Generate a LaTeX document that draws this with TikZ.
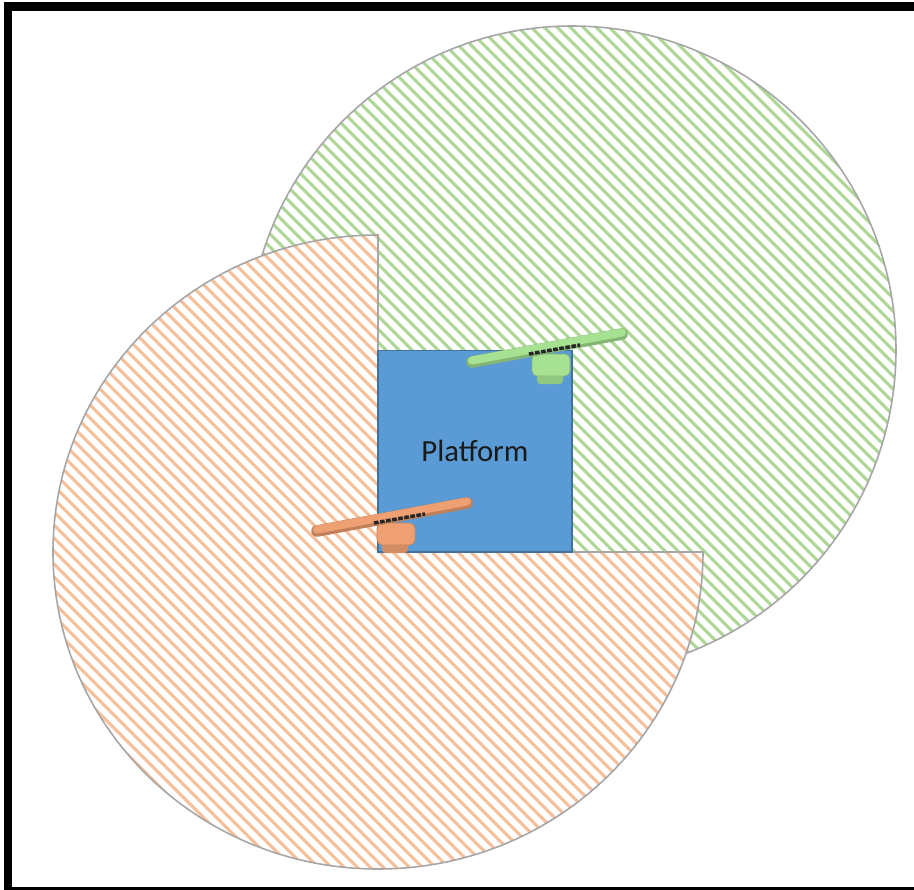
\documentclass[tikz,border=0pt]{standalone}
\usepackage{fontspec}
\setmainfont{Carlito}
\usepackage{xcolor}
\definecolor{ink}{HTML}{1A1A1A}
\definecolor{rimgray}{HTML}{A6A6A6}
\definecolor{leafline}{HTML}{AED695}
\definecolor{peachline}{HTML}{F7BF99}
\definecolor{deck}{HTML}{5B9BD5}
\definecolor{deckedge}{HTML}{41719C}
\definecolor{lidargreen}{HTML}{A6E291}
\definecolor{lidarorange}{HTML}{EFA072}
\tikzset{
  rim/.style={draw=rimgray, line width=0.9pt},
  stripe/.style={line width=1.7pt},
  platform/.style={draw=deckedge, fill=deck, line width=0.6pt,
                   minimum width=3.88cm, minimum height=4.04cm, inner sep=0pt,
                   font=\fontsize{17.5}{20}\selectfont, text=ink},
  rod/.style={line width=6.6pt, line cap=round},
  marks/.style={draw=black!85, line width=2pt, dash pattern=on 2.6pt off 0.9pt}
}

\begin{document}
\begin{tikzpicture}[x=0.02cm,y=-0.02cm]
  \useasboundingbox (0,0) rectangle (914,890);
  \clip (0,0) rectangle (914,890);
  \fill[white] (0,0) rectangle (914,890);

  \coordinate (gc) at (572,350);
  \coordinate (oc) at (378,552);

  % green coverage disc
  \begin{scope}
    \clip (gc) circle [radius=324];
    \foreach \k in {-900,-887,...,914}
      \draw[stripe,leafline] (\k,0) -- ++(1000,1000);
  \end{scope}
  \draw[rim] (gc) circle [radius=324];

  % orange coverage, three quarters
  \begin{scope}
    \clip (oc) -- ++(325,0) arc[start angle=0, end angle=270, x radius=325, y radius=317] -- cycle;
    \fill[white] (0,0) rectangle (914,890);
    \foreach \k in {-900,-887,...,914}
      \draw[stripe,peachline] (\k,0) -- ++(1000,1000);
  \end{scope}
  \draw[rim] (oc) -- ++(325,0) arc[start angle=0, end angle=270, x radius=325, y radius=317] -- cycle;

  \node[platform] (plat) at (475,451) {Platform};

  % the two scanners
  \foreach \cx/\cy/\col in {551/365/lidargreen, 396/534/lidarorange}{
    \begin{scope}[shift={(\cx,\cy)}]
      \fill[\col!88!black, rounded corners=2pt] (-14,6) rectangle (12,19);
      \fill[\col, draw=\col!82!black, line width=0.4pt, rounded corners=3pt] (-19,-11) rectangle (19,11);
      \draw[rod,\col!80!black] (-79,-3) -- (71,-31);
      \draw[line width=4.6pt, line cap=round, \col] (-79,-4.5) -- (71,-32.5);
      \draw[marks] (-22,-11) -- (29,-20);
    \end{scope}
  }

  % frame
  \draw[line width=4.6pt] (8,6.5) rectangle (925,891);
\end{tikzpicture}
\end{document}
